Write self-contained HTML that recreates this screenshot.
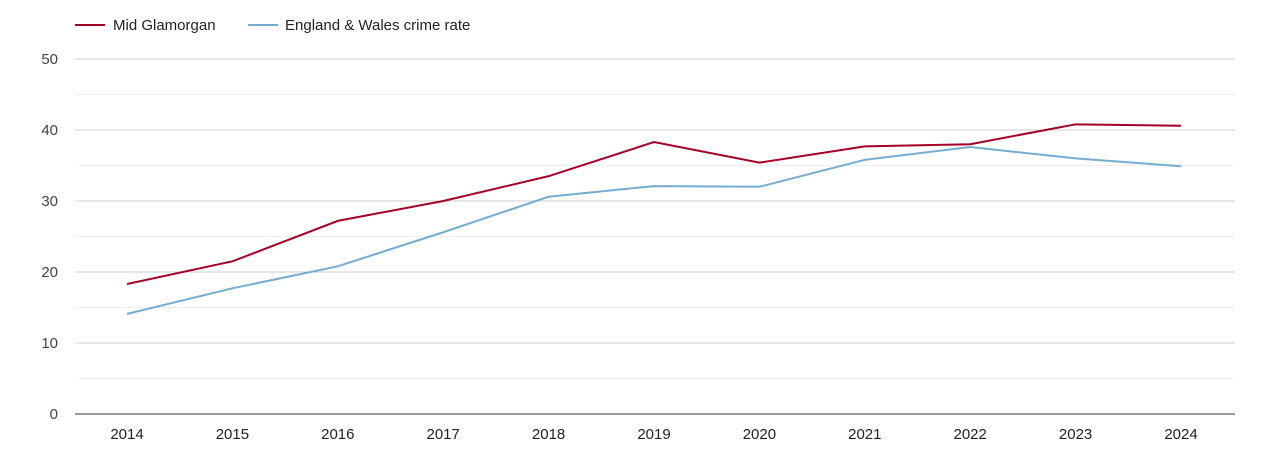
<!DOCTYPE html>
<html><head><meta charset="utf-8"><style>
body{margin:0;background:#fff;font-family:"Liberation Sans",sans-serif;}
</style></head><body>
<svg id="chart" width="1270" height="450" font-family="Liberation Sans, sans-serif">
<g>
<line x1="75" y1="25" x2="105" y2="25" stroke="#a50026" stroke-width="2"/>
<text x="113" y="30" font-size="15" fill="#222">Mid Glamorgan</text>
<line x1="248" y1="25" x2="278" y2="25" stroke="#74add1" stroke-width="2"/>
<text x="285" y="30" font-size="15" fill="#222">England &amp; Wales crime rate</text>
</g>
<g id="grid"></g>
<g id="axes"></g>
<g id="series"></g>
</svg>
<script>
const years=[2014,2015,2016,2017,2018,2019,2020,2021,2022,2023,2024];
const midGlamorgan=[18.3,21.5,27.2,30,33.5,38.3,35.4,37.7,38,40.8,40.6];
const englandWales=[14.1,17.7,20.8,25.6,30.6,32.1,32,35.8,37.6,36,34.9];
const yTicks=[0,10,20,30,40,50];
const NS="http://www.w3.org/2000/svg";
const x0=75,x1=1235,y0=414,y1=59;
function xs(i){return 127+i*(1181-127)/(years.length-1);}
function ys(v){return y0-(v/50)*(y0-y1);}
function mk(t,a,p){const e=document.createElementNS(NS,t);for(const k in a)e.setAttribute(k,a[k]);p.appendChild(e);return e;}
const grid=document.getElementById('grid'),axes=document.getElementById('axes'),series=document.getElementById('series');
for(let v=5;v<50;v+=10){const l=mk('line',{x1:x0,x2:x1,y1:ys(v),y2:ys(v),stroke:'#eeeeee'},grid);

}
yTicks.forEach(v=>{
 if(v>0){const l=mk('line',{x1:x0,x2:x1,y1:ys(v),y2:ys(v),stroke:'#cccccc'},grid);
 
 }
 const t=mk('text',{x:58,y:ys(v)+5,'text-anchor':'end','font-size':15,fill:'#444'},axes);t.textContent=v;
 
 
});
const ax=mk('line',{x1:x0,x2:x1,y1:y0,y2:y0,stroke:'#333'},axes);


years.forEach((y,i)=>{const t=mk('text',{x:xs(i),y:439,'text-anchor':'middle','font-size':15,fill:'#222'},axes);t.textContent=y;
 
 });
function line(d,c,n){const p=mk('polyline',{points:d.map((v,i)=>xs(i)+','+ys(v)).join(' '),fill:'none',stroke:c,'stroke-width':2},series);
 
 }
line(englandWales,'#74add1','england-wales-line');
line(midGlamorgan,'#a50026','mid-glamorgan-line');
</script>
</body></html>
